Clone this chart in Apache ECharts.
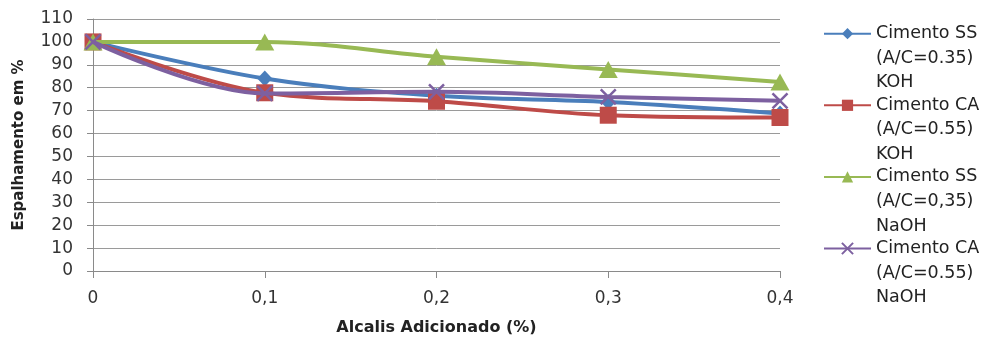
<!DOCTYPE html>
<html>
<head>
<meta charset="utf-8">
<script src="https://cdn.jsdelivr.net/npm/echarts@6/dist/echarts.min.js"></script>
<style>html,body{margin:0;padding:0;background:#fff}#c{width:988px;height:338px}</style>
</head>
<body>
<div id="c"></div>
<script>
const categories = ['0', '0,1', '0,2', '0,3', '0,4'];
const seriesNames = [
  'Cimento SS\n(A/C=0.35)\nKOH',
  'Cimento CA\n(A/C=0.55)\nKOH',
  'Cimento SS\n(A/C=0,35)\nNaOH',
  'Cimento CA\n(A/C=0.55)\nNaOH'
];
const ssKOH = [100, 84, 76.5, 73.8, 68.8];
const caKOH = [100, 77.8, 74.1, 68, 67];
const ssNaOH = [100, 100, 93.5, 88, 82.5];
const caNaOH = [100, 77.5, 78.2, 76, 74.3];
const yTicks = { min: 0, max: 110, interval: 10 };

const colors = ['#4A7EBB', '#BE4B48', '#98B954', '#7D60A0'];
const symbols = ['diamond', 'rect', 'triangle', 'path://M0,0 L10,10 M10,0 L0,10'];
const symSizes = [[15, 16], 17, [19, 17], 15];
const dataSets = [ssKOH, caKOH, ssNaOH, caNaOH];
const FONT = 'DejaVu Sans';
const LH = 24.6;

const chart = echarts.init(document.getElementById('c'), null, { renderer: 'canvas' });
chart.setOption({
  animation: false,
  backgroundColor: '#fff',
  grid: { left: 93, right: 208, top: 19, bottom: 67, containLabel: false, outerBoundsMode: 'none' },
  legend: {
    orient: 'vertical',
    left: 823,
    top: -27.8,
    height: 1000,
    padding: 0,
    itemGap: -51.4,
    itemWidth: 47,
    itemHeight: 14,
    data: seriesNames,
    formatter: n => '\n\n' + n,
    textStyle: {
      fontFamily: FONT,
      fontSize: 17.5,
      color: '#222',
      lineHeight: LH
    }
  },
  xAxis: {
    type: 'category',
    data: categories,
    boundaryGap: false,
    name: 'Alcalis Adicionado (%)',
    nameLocation: 'middle',
    nameGap: 49,
    nameTextStyle: { fontFamily: FONT, fontSize: 16, fontWeight: 'bold', color: '#222' },
    axisLine: { lineStyle: { color: '#8a8a8a', width: 1 } },
    axisTick: { show: true, alignWithLabel: true, length: 7, lineStyle: { color: '#8a8a8a' } },
    axisLabel: { fontFamily: FONT, fontSize: 17, color: '#333', margin: 19 },
    splitLine: { show: false }
  },
  yAxis: {
    type: 'value',
    min: yTicks.min,
    max: yTicks.max,
    interval: yTicks.interval,
    name: 'Espalhamento em %',
    nameLocation: 'middle',
    nameGap: 66,
    nameTextStyle: { fontFamily: FONT, fontSize: 15, fontWeight: 'bold', color: '#222' },
    axisLine: { show: true, lineStyle: { color: '#8a8a8a', width: 1 } },
    axisTick: { show: true, length: 6, lineStyle: { color: '#8a8a8a' } },
    axisLabel: { fontFamily: FONT, fontSize: 17, color: '#333', margin: 20 },
    splitLine: { show: true, lineStyle: { color: '#9a9a9a', width: 1 } }
  },
  series: dataSets.map((d, i) => ({
    name: seriesNames[i],
    type: 'line',
    data: d,
    smooth: 0.35,
    symbol: symbols[i],
    symbolSize: symSizes[i],
    showAllSymbol: true,
    lineStyle: { color: colors[i], width: 4 },
    itemStyle: i === 3
      ? { color: colors[i], borderColor: colors[i], borderWidth: 2.5 }
      : { color: colors[i], borderWidth: 0 },
    z: 2 + i
  }))
});
</script>
</body>
</html>
